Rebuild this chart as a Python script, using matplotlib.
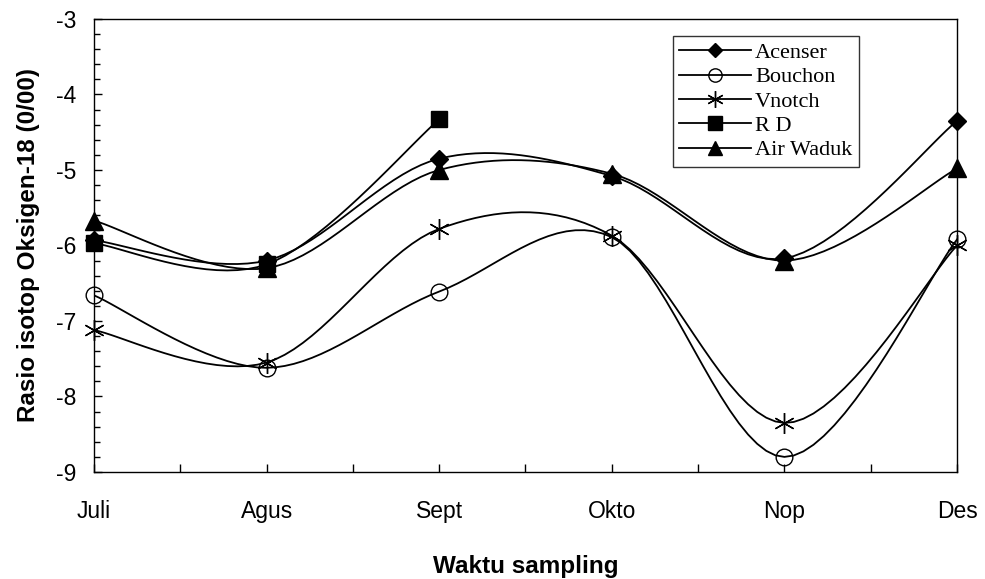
import numpy as np
import matplotlib
matplotlib.use("Agg")
import matplotlib.pyplot as plt
from matplotlib.ticker import MultipleLocator

plt.rcParams["axes.unicode_minus"] = False

months = ["Juli", "Agus", "Sept", "Okto", "Nop", "Des"]
acenser = [-5.93, -6.2, -4.85, -5.08, -6.17, -4.35]
bouchon = [-6.66, -7.62, -6.61, -5.89, -8.8, -5.92]
vnotch = [-7.12, -7.55, -5.78, -5.87, -8.35, -6.0]
rd = [-5.97, -6.25, -4.33]
air_waduk = [-5.67, -6.3, -5.0, -5.05, -6.2, -4.98]


def smooth(y, n=20):
    # excel-style smoothed line (catmull-rom bezier)
    x = np.arange(len(y), dtype=float)
    p = np.column_stack([x, np.asarray(y, dtype=float)])
    out = [p[0]]
    t = np.linspace(0, 1, n)[1:, None]
    for i in range(len(p) - 1):
        p0 = p[i - 1] if i > 0 else p[i]
        p3 = p[i + 2] if i + 2 < len(p) else p[i + 1]
        c1 = p[i] + (p[i + 1] - p0) / 6
        c2 = p[i + 1] - (p3 - p[i]) / 6
        seg = ((1 - t) ** 3 * p[i] + 3 * (1 - t) ** 2 * t * c1
               + 3 * (1 - t) * t ** 2 * c2 + t ** 3 * p[i + 1])
        out.extend(seg)
    out = np.array(out)
    return out[:, 0], out[:, 1]


fig = plt.figure(figsize=(9.85, 5.79), dpi=100)
ax = fig.add_axes([0.0954, 0.1848, 0.8762, 0.7824])

series = [
    ("Acenser", acenser, dict(marker="D", markersize=9, markerfacecolor="black")),
    ("Bouchon", bouchon, dict(marker="o", markersize=12, markerfacecolor="none")),
    ("Vnotch", vnotch, dict(marker=(6, 2, 0), markersize=15, markeredgewidth=1.0)),
    ("R D", rd, dict(marker="s", markersize=12, markerfacecolor="black")),
    ("Air Waduk", air_waduk, dict(marker="^", markersize=13, markerfacecolor="black")),
]

for name, vals, style in series:
    sx, sy = smooth(vals)
    ax.plot(sx, sy, color="black", lw=1.3)
    ax.plot(np.arange(len(vals)), vals, linestyle="none", color="black",
            markeredgecolor="black", clip_on=False, **style)
    ax.plot([], [], color="black", lw=1.3, label=name,
            **{k: (v * 0.8 if k == "markersize" else v) for k, v in style.items()})

ax.set_xlim(0, 5)
ax.set_ylim(-9, -3)
ax.set_xticks(range(len(months)))
ax.set_xticklabels(months)
ax.xaxis.set_minor_locator(MultipleLocator(0.5))
ax.yaxis.set_major_locator(MultipleLocator(1))
ax.yaxis.set_minor_locator(MultipleLocator(0.2))
ax.tick_params(axis="both", which="both", direction="in", labelsize=16.5,
               color="black", width=1)
ax.tick_params(axis="y", which="major", length=6, pad=13)
ax.tick_params(axis="y", which="minor", length=4)
ax.tick_params(axis="x", which="both", length=6, pad=20)
for lab in ax.get_xticklabels() + ax.get_yticklabels():
    lab.set_family("Liberation Sans")
for s in ax.spines.values():
    s.set_linewidth(1)
    s.set_color("black")

ax.set_ylabel("Rasio isotop Oksigen-18 (0/00)", fontsize=17.5, fontweight="bold",
              family="Liberation Sans", labelpad=11)
ax.set_xlabel("Waktu sampling", fontsize=17.5, fontweight="bold",
              family="Liberation Sans", labelpad=23)

leg = ax.legend(loc="upper left", bbox_to_anchor=(0.6707, 0.963), frameon=True,
                fancybox=False, edgecolor="black", handlelength=3.2,
                handletextpad=0.2, labelspacing=0.17, borderpad=0.3,
                borderaxespad=0, prop={"family": "Liberation Serif", "size": 16})
leg.get_frame().set_linewidth(1)

fig.savefig("out.png", dpi=100)
